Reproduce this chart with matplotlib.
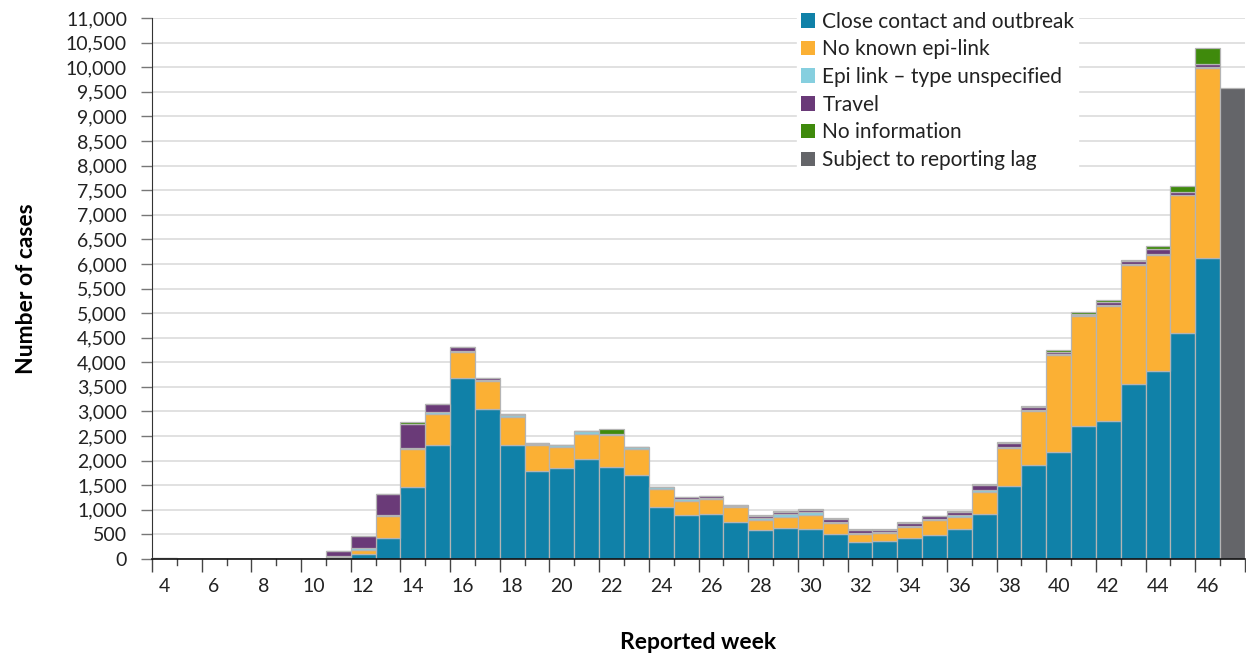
import numpy as np
import matplotlib.pyplot as plt
from matplotlib.patches import Patch
from matplotlib.lines import Line2D
from matplotlib.ticker import FuncFormatter, MultipleLocator

plt.rcParams['font.family'] = ['Lato', 'DejaVu Sans']
plt.rcParams['text.color'] = '#222222'
plt.rcParams['xtick.color'] = '#222222'
plt.rcParams['ytick.color'] = '#222222'

# reported weeks 4..46 (week 47 is the incomplete "lag" bar)
weeks = list(range(4, 47))
close_contact = [5, 0, 0, 0, 2, 2, 2, 20, 95, 433, 1457, 2318, 3673, 3043, 2318, 1797,
                 1844, 2027, 1864, 1702, 1050, 888, 908, 752, 590, 637, 610, 502, 339,
                 359, 433, 495, 601, 916, 1487, 1915, 2177, 2703, 2816, 3567, 3814, 4603, 6125]
no_known = [3, 0, 0, 0, 1, 1, 2, 15, 90, 441, 779, 637, 530, 576, 576, 514,
            440, 521, 657, 528, 367, 298, 306, 298, 210, 224, 285, 223, 163,
            163, 211, 290, 262, 451, 766, 1088, 1968, 2238, 2320, 2417, 2373, 2793, 3855]
unspecified = [2, 0, 0, 0, 2, 2, 2, 25, 30, 30, 15, 25, 30, 30, 28, 25,
               24, 45, 20, 44, 37, 25, 25, 20, 25, 50, 55, 35, 30,
               25, 35, 30, 30, 40, 25, 25, 20, 15, 20, 15, 20, 15, 15]
travel = [10, 0, 0, 0, 3, 3, 4, 110, 250, 414, 494, 169, 81, 35, 20, 15,
          10, 10, 10, 10, 10, 45, 40, 20, 55, 50, 40, 55, 65,
          45, 50, 50, 65, 90, 90, 70, 45, 30, 65, 50, 100, 60, 65]
no_info = [0, 0, 0, 0, 0, 0, 0, 0, 5, 3, 40, 0, 0, 0, 0, 0,
           0, 0, 90, 0, 0, 10, 10, 8, 15, 15, 20, 20, 20,
           18, 17, 15, 18, 20, 20, 18, 32, 30, 50, 35, 55, 110, 330]
lag_week = 47
lag_value = 9580

series = [
    ("Close contact and outbreak", close_contact, "#1081a8"),
    ("No known epi-link", no_known, "#fbb034"),
    ("Epi link \u2013 type unspecified", unspecified, "#86cfdf"),
    ("Travel", travel, "#6a3a78"),
    ("No information", no_info, "#3f8a0c"),
]
lag_label = "Subject to reporting lag"
lag_color = "#646569"

fig = plt.figure(figsize=(12.46, 6.56), dpi=100)
ax = fig.add_axes([152 / 1246, 1 - 559 / 656, 1093 / 1246, 541 / 656])

bottom = np.zeros(len(weeks))
handles = []
for label, vals, col in series:
    vals = np.array(vals, dtype=float)
    ax.bar(weeks, vals, bottom=bottom, width=1.0, color=col,
           edgecolor="#b4b4b4", linewidth=0.9, zorder=3)
    bottom += vals
    handles.append(Patch(facecolor=col, label=label))
ax.bar([lag_week], [lag_value], width=1.0, color=lag_color,
       edgecolor="#b4b4b4", linewidth=0.9, zorder=3)
handles.append(Patch(facecolor=lag_color, label=lag_label))

ax.set_xlim(3.5, 47.5)
ax.set_ylim(0, 11000)
ax.yaxis.set_major_locator(MultipleLocator(500))
ax.yaxis.set_major_formatter(FuncFormatter(lambda v, p: f"{int(v):,}"))
ax.grid(axis="y", color="#d9d9d9", linewidth=1.1, zorder=0)

# labels on even weeks, ticks on bar boundaries (long every second one)
ax.set_xticks(list(range(4, 47, 2)))
ax.tick_params(axis="x", length=0, pad=14, labelsize=14)
ax.set_xticks(np.arange(3.5, 48, 2), minor=True)
ax.tick_params(axis="x", which="minor", length=9, width=1, color="#444444")
for xb in np.arange(4.5, 48, 2):
    ax.add_line(Line2D([xb, xb], [0, -0.011], transform=ax.get_xaxis_transform(),
                       clip_on=False, color="#444444", linewidth=1))
ax.tick_params(axis="y", length=8, width=1, color="#777777", labelsize=14, pad=10)

for side in ["top", "right"]:
    ax.spines[side].set_visible(False)
ax.spines["left"].set_color("#333333")
ax.spines["bottom"].set_color("#111111")
ax.spines["bottom"].set_linewidth(1.2)
ax.spines["bottom"].set_zorder(4)

ax.set_ylabel("Number of cases", fontsize=16.5, fontweight="bold", labelpad=21)
ax.set_xlabel("Reported week", fontsize=16.5, fontweight="bold", labelpad=26)

leg = fig.legend(handles=handles, loc="upper left", bbox_to_anchor=(787 / 1246, 1 + 2 / 656),
                 fontsize=15, frameon=True, facecolor="white", edgecolor="white",
                 framealpha=1, handlelength=0.7, handleheight=0.7, handletextpad=0.35,
                 labelspacing=0.37, borderpad=0.15, fancybox=False)
leg.set_zorder(10)

fig.savefig("out.png", dpi=100)
